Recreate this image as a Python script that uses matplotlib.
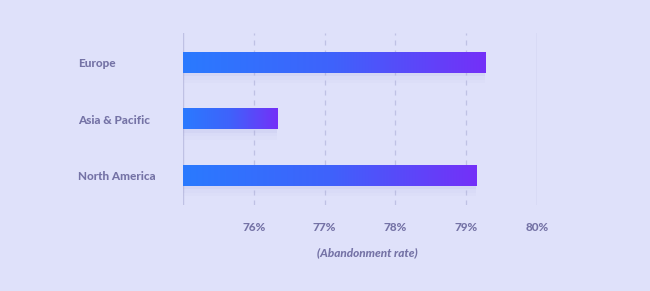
import numpy as np
import matplotlib.pyplot as plt
from matplotlib.colors import LinearSegmentedColormap

regions = ["Europe", "Asia & Pacific", "North America"]
rates = [79.27, 76.33, 79.14]
ticks = [76, 77, 78, 79, 80]
tick_labels = ["76%", "77%", "78%", "79%", "80%"]

bg = "#dfe1fa"
text_col = "#7573a6"
grid_col = "#bfc1e4"
cmap = LinearSegmentedColormap.from_list("bar", ["#2a7aff", "#3f62fb", "#7430f8"])

W, H = 650, 291
fig = plt.figure(figsize=(W / 100, H / 100), dpi=100, facecolor=bg)
ax = fig.add_axes([183 / W, 1 - 205 / H, (537 - 183) / W, (205 - 33) / H])
ax.set_facecolor(bg)

bar_h = 0.36
grad = np.linspace(0, 1, 256).reshape(1, -1)
for i, v in enumerate(rates):
    for k, a in enumerate([0.10, 0.07, 0.04]):
        d = 0.03 * (k + 1)
        ax.add_patch(plt.Rectangle((75, i - bar_h / 2 + d), v - 75, bar_h + d,
                                   facecolor="#a9aae0", alpha=a, edgecolor="none", zorder=2))
    ax.imshow(grad, cmap=cmap, aspect="auto", interpolation="bicubic",
              extent=[75, v, i + bar_h / 2, i - bar_h / 2], zorder=3)

ax.set_xlim(75, 80)
ax.set_ylim(2.52, -0.53)

for t in ticks[:-1]:
    ax.axvline(t, color=grid_col, lw=0.9, ls=(0, (4, 4)), zorder=1)
ax.axvline(75, color=grid_col, lw=1.0, zorder=1)
ax.axvline(80, color=grid_col, lw=1.0, zorder=1)

for s in ax.spines.values():
    s.set_visible(False)

ax.set_xticks(ticks)
ax.set_xticklabels(tick_labels)
ax.tick_params(axis="x", length=0, pad=12, labelcolor=text_col, labelsize=8.5)
ax.set_yticks(range(len(regions)))
ax.set_yticklabels(regions)
ax.tick_params(axis="y", length=0, pad=(183 - 78) * 0.72, labelcolor=text_col, labelsize=8.5)
for lab in ax.get_yticklabels() + ax.get_xticklabels():
    lab.set_fontfamily("Lato")
    lab.set_fontweight(900)
for lab in ax.get_yticklabels():
    lab.set_horizontalalignment("left")

fig.text(367 / W, 1 - 253 / H, "(Abandonment rate)", ha="center", va="center",
         color=text_col, fontsize=8.5, fontfamily="Lato", fontweight=900, style="italic")

fig.savefig("out.png", dpi=100, facecolor=bg)
